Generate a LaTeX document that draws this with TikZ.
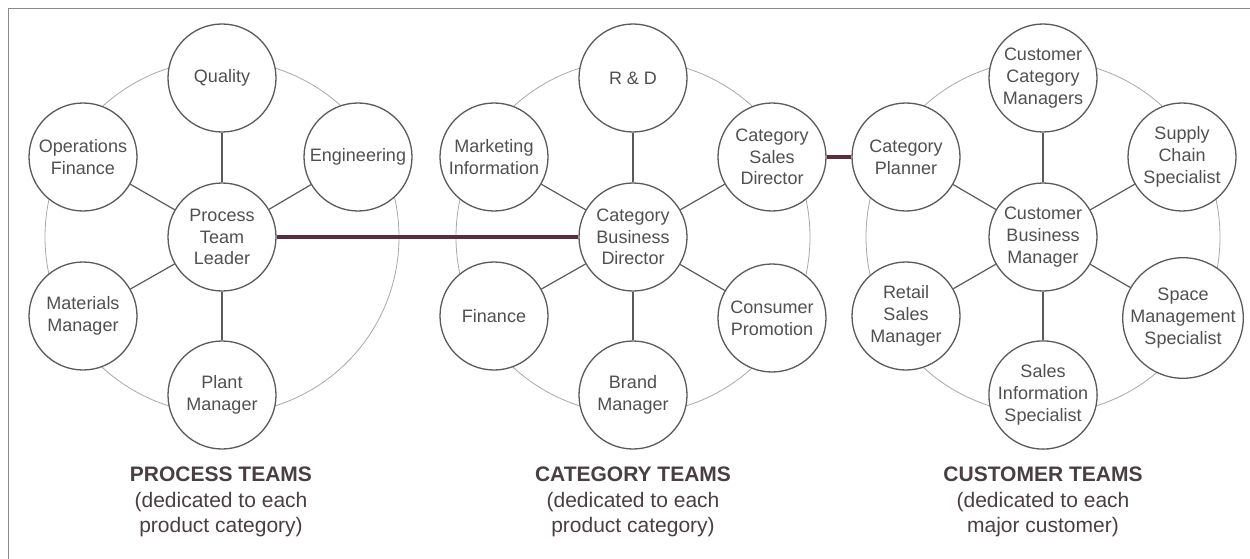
\documentclass[tikz,border=0pt]{standalone}
\usepackage{fontspec}
\setmainfont{Liberation Sans}
\definecolor{ink}{HTML}{505050}
\definecolor{edge}{HTML}{5A5A5A}
\definecolor{ring}{HTML}{A8A8A8}
\definecolor{link}{HTML}{5B2D3A}
\definecolor{frame}{HTML}{8A8A8A}
\definecolor{cap}{HTML}{4A3E43}
\begin{document}
\begin{tikzpicture}[x=1pt,y=-1pt,
  role/.style={circle,draw=edge,line width=1.3pt,fill=white,minimum size=108pt,inner sep=0pt,
    text=ink,align=center,font=\fontsize{18}{21.7}\selectfont},
  spoke/.style={draw=edge,line width=1.2pt},
  bigring/.style={draw=ring,line width=0.8pt},
  thick link/.style={draw=link,line width=3.2pt},
  caption/.style={align=center,text=cap,font=\fontsize{21}{25.5}\selectfont}]
\useasboundingbox (0,0) rectangle (1250,559);
\draw[frame,line width=1pt] (8,559) -- (8,9) -- (1250,9);
% big rings
\draw[bigring] (222,237) circle (177);
\draw[bigring] (633,237) circle (177);
\draw[bigring] (1043,237) circle (177);
% Process cluster
\node[role] (ptl) at (222,237) {Process\\Team\\Leader};
\node[role] (qual) at (222,78) {Quality};
\node[role] (opf) at (83,157) {Operations\\Finance};
\node[role] (eng) at (358,157) {Engineering};
\node[role] (mat) at (83,316) {Materials\\Manager};
\node[role] (plant) at (222,395) {Plant\\Manager};
% Category cluster
\node[role] (cbd) at (633,237) {Category\\Business\\Director};
\node[role] (rd) at (633,78) {R \& D};
\node[role] (mkt) at (494,157) {Marketing\\Information};
\node[role] (csd) at (772,157) {Category\\Sales\\Director};
\node[role] (fin) at (494,316) {Finance};
\node[role] (cpro) at (772,318) {Consumer\\Promotion};
\node[role] (brand) at (633,395) {Brand\\Manager};
% Customer cluster
\node[role] (cbm) at (1043,237) {Customer\\Business\\Manager};
\node[role] (ccm) at (1043,78) {Customer\\Category\\Managers};
\node[role] (cpl) at (906,157) {Category\\Planner};
\node[role] (scs) at (1182,157) {Supply\\Chain\\Specialist};
\node[role] (rsm) at (906,316) {Retail\\Sales\\Manager};
\node[role] (sms) at (1183,318) {Space\\Management\\Specialist};
\node[role] (sis) at (1043,395) {Sales\\Information\\Specialist};
% spokes
\foreach \c/\o in {ptl/qual,ptl/opf,ptl/eng,ptl/mat,ptl/plant,
                   cbd/rd,cbd/mkt,cbd/csd,cbd/fin,cbd/cpro,cbd/brand,
                   cbm/ccm,cbm/cpl,cbm/scs,cbm/rsm,cbm/sms,cbm/sis}
  \draw[spoke] (\c) -- (\o);
% thick links
\draw[thick link] (ptl) -- (cbd);
\draw[thick link] (csd) -- (cpl);
% captions
\node[caption] (capP) at (221,502) {\textbf{PROCESS TEAMS}\\(dedicated to each\\product category)};
\node[caption] (capC) at (633,502) {\textbf{CATEGORY TEAMS}\\(dedicated to each\\product category)};
\node[caption] (capU) at (1043,502) {\textbf{CUSTOMER TEAMS}\\(dedicated to each\\major customer)};
\end{tikzpicture}
\end{document}
